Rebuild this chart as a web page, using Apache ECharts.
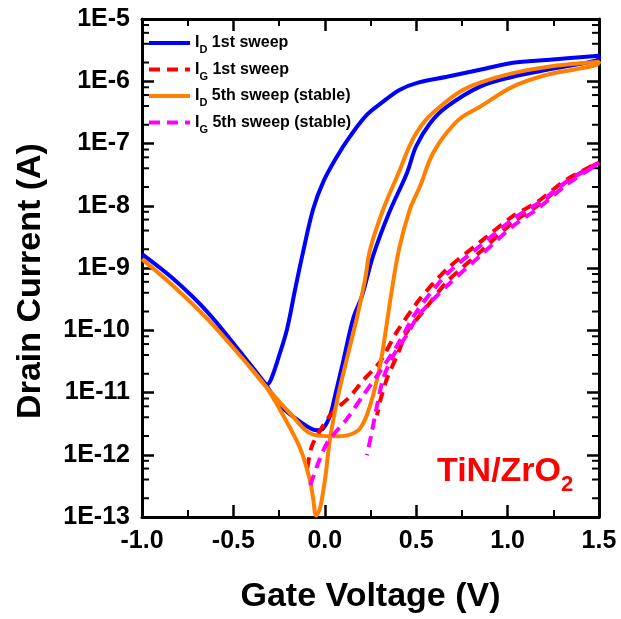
<!DOCTYPE html>
<html>
<head>
<meta charset="utf-8">
<script src="https://cdn.jsdelivr.net/npm/echarts@6/dist/echarts.min.js"></script>
<style>
html, body { margin: 0; padding: 0; background: #fff; }
#chart { width: 621px; height: 619px; }
</style>
</head>
<body>
<div id="chart"></div>
<script>
// gate voltage (V) / current (A); each sweep is one loop
var vId1 = [-1.0, -0.829, -0.643, -0.463, -0.337, -0.315, -0.295, -0.255, -0.206, -0.162, -0.119, -0.064, -0.009, 0.067, 0.138, 0.231, 0.319, 0.411, 0.51, 0.668, 0.849, 1.029, 1.215, 1.5,
	1.5, 1.215, 1.029, 0.849, 0.668, 0.575, 0.499, 0.45, 0.35, 0.264, 0.204, 0.155, 0.1, 0.056, 0.029, -0.009, -0.042, -0.135, -0.244, -0.326, -0.463, -0.643, -0.829, -1.0];
var iId1 = [1.67e-9, 6.7e-10, 1.98e-10, 4.5e-11, 1.5e-11, 1.35e-11, 1.6e-11, 3.5e-11, 1.06e-10, 4.6e-10, 1.8e-9, 8.8e-9, 2.4e-8, 6.2e-8, 1.3e-7, 2.9e-7, 4.7e-7, 7.3e-7, 9.5e-7, 1.18e-6, 1.53e-6, 1.98e-6, 2.2e-6, 2.56e-6,
	2.38e-6, 1.53e-6, 1.18e-6, 8.2e-7, 3.9e-7, 2.1e-7, 8.95e-8, 3.4e-8, 7.5e-9, 1.56e-9, 3.6e-10, 1.53e-10, 3.1e-11, 8.9e-12, 4.3e-12, 2.65e-12, 2.47e-12, 3.4e-12, 6.2e-12, 1.39e-11, 4.5e-11, 1.98e-10, 6.7e-10, 1.67e-9];

var vIg1 = [-0.096, -0.069, 0.029, 0.138, 0.209, 0.302, 0.395, 0.521, 0.668, 0.849, 1.029, 1.16, 1.324, 1.5,
	1.324, 1.176, 1.029, 0.849, 0.668, 0.537, 0.45, 0.395, 0.34, 0.302, 0.286];
var iIg1 = [6.1e-13, 1.42e-12, 4.3e-12, 8.6e-12, 1.56e-11, 3.1e-11, 9.5e-11, 3.2e-10, 9.6e-10, 2.6e-9, 6.8e-9, 1.14e-8, 2.65e-8, 4.97e-8,
	2.47e-8, 1.06e-8, 5.4e-9, 1.8e-9, 6.0e-10, 1.98e-10, 9.5e-11, 3.9e-11, 1.67e-11, 7.2e-12, 4.3e-12];

var vId5 = [-1.0, -0.829, -0.643, -0.463, -0.326, -0.228, -0.135, -0.08, -0.064, -0.047, -0.026, 0.002, 0.029, 0.073, 0.122, 0.176, 0.22, 0.248, 0.32, 0.411, 0.455, 0.499, 0.553, 0.63, 0.739, 0.849, 1.029, 1.215, 1.5,
	1.5, 1.215, 1.029, 0.849, 0.739, 0.668, 0.619, 0.575, 0.521, 0.466, 0.406, 0.362, 0.335, 0.302, 0.248, 0.193, 0.122, 0.046, -0.064, -0.189, -0.326, -0.463, -0.643, -0.829, -1.0];
var iId5 = [1.39e-9, 5.15e-10, 1.53e-10, 3.9e-11, 1.29e-11, 4.3e-12, 1.27e-12, 3.77e-13, 2.0e-13, 1.05e-13, 1.39e-13, 4.2e-13, 1.84e-12, 8.9e-12, 3.6e-11, 1.6e-10, 6.5e-10, 2.0e-9, 8.8e-9, 3.8e-8, 8.0e-8, 1.45e-7, 2.4e-7, 3.9e-7, 6.8e-7, 9.5e-7, 1.35e-6, 1.7e-6, 2.05e-6,
	1.98e-6, 1.27e-6, 8.2e-7, 3.9e-7, 2.5e-7, 1.5e-7, 9.5e-8, 5.5e-8, 2.05e-8, 8.8e-9, 2.0e-9, 3.6e-10, 1.06e-10, 2.7e-11, 6.2e-12, 2.65e-12, 2.05e-12, 1.98e-12, 2.1e-12, 4.6e-12, 1.29e-11, 3.9e-11, 1.53e-10, 5.15e-10, 1.39e-9];

var vIg5 = [-0.08, -0.026, 0.018, 0.122, 0.209, 0.302, 0.395, 0.505, 0.668, 0.849, 1.029, 1.176, 1.324, 1.5,
	1.324, 1.176, 1.029, 0.849, 0.668, 0.51, 0.45, 0.374, 0.319, 0.286, 0.258, 0.231];
var iIg5 = [3.25e-13, 8.8e-13, 1.64e-12, 3.8e-12, 8.9e-12, 2.17e-11, 5.65e-11, 2.05e-10, 8.0e-10, 2.25e-9, 6.1e-9, 1.14e-8, 2.47e-8, 4.8e-8,
	2.2e-8, 9.5e-9, 4.7e-9, 1.56e-9, 5.15e-10, 1.7e-10, 8.5e-11, 3.9e-11, 1.67e-11, 6.2e-12, 2.38e-12, 9.8e-13];

var seriesNames = ['I_D 1st sweep', 'I_G 1st sweep', 'I_D 5th sweep (stable)', 'I_G 5th sweep (stable)'];
var yMajorTicks = [1e-13, 1e-12, 1e-11, 1e-10, 1e-9, 1e-8, 1e-7, 1e-6, 1e-5];
var minorSteps = [2, 4, 6, 8];

var FONT = '"Liberation Sans", Arial, sans-serif';

function pairs(v, c) {
	var out = [];
	for (var i = 0; i < v.length; i++) {
		out.push([v[i], c[i]]);
	}
	return out;
}

// 2,4,6,8 x 10^n minor ticks, one row per tick: [edge voltage, current]
var minorLeft = [], minorRight = [];
for (var d = 0; d < yMajorTicks.length - 1; d++) {
	for (var k = 0; k < minorSteps.length; k++) {
		minorLeft.push([-1, minorSteps[k] * yMajorTicks[d]]);
		minorRight.push([1.5, minorSteps[k] * yMajorTicks[d]]);
	}
}

var chart = echarts.init(document.getElementById('chart'));

var tickLine = { color: '#000', width: 2.5 };

function xAxisDef(pos) {
	return {
		type: 'value', position: pos, min: -1, max: 1.5, interval: 0.5,
		axisLine: { show: true, onZero: false, lineStyle: { color: '#000', width: 3 } },
		axisTick: { show: true, inside: true, length: 12, lineStyle: tickLine },
		minorTick: { show: true, splitNumber: 2, length: 7, lineStyle: { color: '#000', width: 2 } },
		splitLine: { show: false },
		axisLabel: {
			show: pos == 'bottom', margin: 12, color: '#000',
			fontFamily: FONT, fontWeight: 'bold', fontSize: 25,
			formatter: function(v) { return v.toFixed(1); }
		}
	};
}

function yAxisDef(pos) {
	return {
		type: 'log', position: pos, min: 1e-13, max: 1e-5,
		axisLine: { show: true, onZero: false, lineStyle: { color: '#000', width: 3 } },
		axisTick: { show: true, inside: true, length: 12, customValues: yMajorTicks, lineStyle: tickLine },
		splitLine: { show: false },
		axisLabel: {
			show: pos == 'left', margin: 12, color: '#000', customValues: yMajorTicks,
			fontFamily: FONT, fontWeight: 'bold', fontSize: 25,
			formatter: function(v) { return '1E' + Math.round(Math.log10(v)); }
		}
	};
}

function lineSeries(idx, v, c, color, dashed) {
	return {
		name: seriesNames[idx], type: 'line', data: pairs(v, c),
		showSymbol: false, symbol: 'none', smooth: dashed ? 0.25 : 0.35,
		lineStyle: { color: color, width: 4, type: dashed ? [11, 7] : 'solid' },
		itemStyle: { color: color }
	};
}

// inward minor tick drawn from the axis edge (dir +1 left side, -1 right side)
function tickSeries(rows, dir) {
	return {
		type: 'custom', data: rows,
		renderItem: function(params, api) {
			var p = api.coord([api.value(0), api.value(1)]);
			return {
				type: 'rect',
				shape: { x: dir > 0 ? p[0] : p[0] - 7, y: p[1] - 1, width: 7, height: 2 },
				style: { fill: '#000' }
			};
		}
	};
}

var sub = { fontFamily: FONT, fontWeight: 'bold', fontSize: 11, color: '#000', padding: [14, 0, 0, 0] };
var main = { fontFamily: FONT, fontWeight: 'bold', fontSize: 16, color: '#000', lineHeight: 20 };

var option = {
	animation: false,
	backgroundColor: '#fff',
	grid: { left: 142, right: 22, top: 19, bottom: 100 },
	legend: {
		orient: 'vertical', left: 147, top: 35, padding: 0,
		itemWidth: 41, itemHeight: 14, itemGap: 6,
		data: seriesNames,
		itemStyle: { opacity: 0 },
		lineStyle: { width: 4 },
		formatter: function(name) {
			var p = name.split(' ');
			return '{m|I}{s|' + p[0].charAt(2) + '}{m| ' + p.slice(1).join(' ') + '}';
		},
		textStyle: { rich: { m: main, s: sub } }
	},
	xAxis: [
		Object.assign(xAxisDef('bottom'), {
			name: 'Gate Voltage (V)', nameLocation: 'middle', nameGap: 63,
			nameTextStyle: { fontFamily: FONT, fontWeight: 'bold', fontSize: 34, color: '#000' }
		}),
		xAxisDef('top')
	],
	yAxis: [
		Object.assign(yAxisDef('left'), {
			name: 'Drain Current (A)', nameLocation: 'middle', nameGap: 94,
			nameTextStyle: { fontFamily: FONT, fontWeight: 'bold', fontSize: 34, color: '#000', padding: [0, 26, 0, 0] }
		}),
		yAxisDef('right')
	],
	series: [
		lineSeries(0, vId1, iId1, '#0000ff', false),
		lineSeries(1, vIg1, iIg1, '#ff0000', true),
		lineSeries(2, vId5, iId5, '#ff8000', false),
		lineSeries(3, vIg5, iIg5, '#ff00ff', true),
		tickSeries(minorLeft, 1),
		tickSeries(minorRight, -1)
	],
	graphic: [{
		type: 'text', left: 437, top: 455,
		style: {
			text: '{a|TiN/ZrO}{b|2}',
			rich: {
				a: { fontFamily: FONT, fontWeight: 'bold', fontSize: 34, fill: '#ff0000', lineHeight: 38 },
				b: { fontFamily: FONT, fontWeight: 'bold', fontSize: 22, fill: '#ff0000', padding: [26, 0, 0, 0] }
			}
		}
	}]
};

chart.setOption(option);
</script>
</body>
</html>
